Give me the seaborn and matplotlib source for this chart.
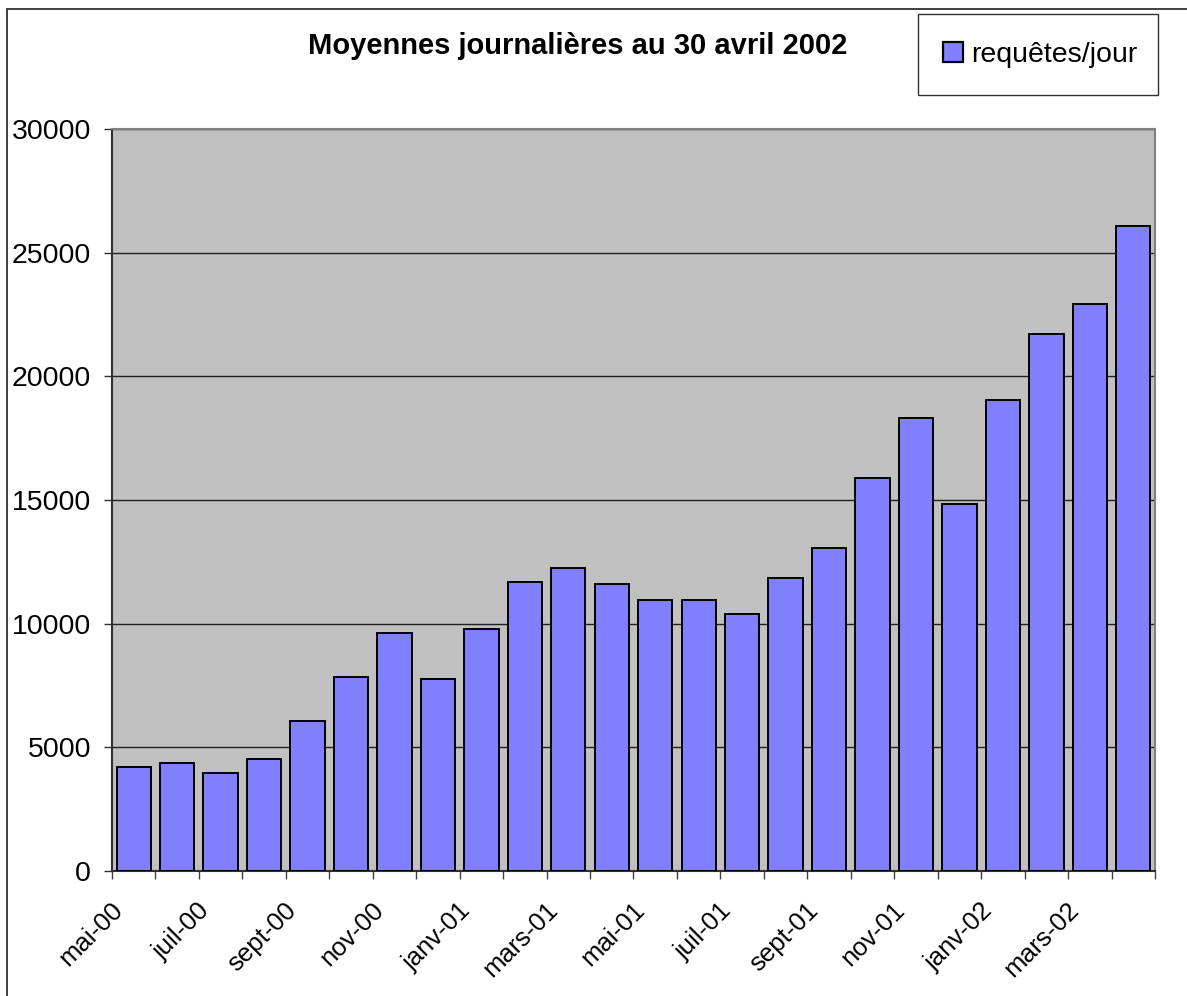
# Moyennes journalieres - bar chart, requetes/jour par mois (mai-00 a avr-02)
import pandas as pd
import numpy as np
import matplotlib
matplotlib.use('Agg')
import matplotlib.pyplot as plt
import matplotlib.patches as mpatches
import matplotlib.transforms as mtransforms
import seaborn as sns

# ============================================
# DATA
# ============================================
mois = ['mai-00', 'juin-00', 'juil-00', 'août-00', 'sept-00', 'oct-00',
        'nov-00', 'déc-00', 'janv-01', 'févr-01', 'mars-01', 'avr-01',
        'mai-01', 'juin-01', 'juil-01', 'août-01', 'sept-01', 'oct-01',
        'nov-01', 'déc-01', 'janv-02', 'févr-02', 'mars-02', 'avr-02']
requetes = [4210, 4370, 3970, 4540, 6070, 7850,
            9620, 7770, 9790, 11690, 12250, 11620,
            10960, 10960, 10400, 11850, 13060, 15890,
            18310, 14840, 19040, 21700, 22910, 26060]
y_ticks = [0, 5000, 10000, 15000, 20000, 25000, 30000]
titre = 'Moyennes journalières au 30 avril 2002'
serie = 'requêtes/jour'

df = pd.DataFrame({'mois': mois, 'requetes': requetes})

# ============================================
# STYLE
# ============================================
sns.set_style('white')
plt.rcParams['font.family'] = ['Liberation Sans', 'DejaVu Sans']
plt.rcParams['text.color'] = 'black'
plt.rcParams['xtick.color'] = 'black'
plt.rcParams['ytick.color'] = 'black'

W, H = 1187, 996
fig = plt.figure(figsize=(W / 100, H / 100), dpi=100)
ax = fig.add_axes([112 / W, 1 - 871 / H, 1043 / W, (871 - 129) / H])
ax.set_facecolor('#C0C0C0')

# bars
sns.barplot(data=df, x='mois', y='requetes', color='#8080FF', saturation=1,
            edgecolor='black', linewidth=1.4, width=0.79, ax=ax, zorder=3)

# axes limits and grid
ax.set_xlim(-0.5, len(mois) - 0.5)
ax.set_ylim(0, 30000)
ax.set_yticks(y_ticks)
ax.set_yticklabels([str(v) for v in y_ticks])
ax.yaxis.grid(True, color='#202020', linewidth=1.0)
ax.xaxis.grid(False)
ax.set_axisbelow(True)
ax.set_xlabel('')
ax.set_ylabel('')

# spines
for side in ['top', 'right']:
    ax.spines[side].set_color('#808080')
    ax.spines[side].set_linewidth(1.5)
for side in ['left', 'bottom']:
    ax.spines[side].set_color('#303030')
    ax.spines[side].set_linewidth(1.5)

# y ticks
ax.tick_params(axis='y', which='major', direction='out', length=5.8, width=1.0,
               color='#303030', labelcolor='black', pad=9.3, labelsize=20.5,
               left=True)

# x ticks: marks between categories, labels every two months
pos = np.arange(len(mois))
ax.set_xticks(pos[::2])
ax.set_xticklabels(mois[::2])
ax.set_xticks(np.arange(-0.5, len(mois), 1.0), minor=True)
ax.tick_params(axis='x', which='minor', direction='out', length=5.8, width=1.0,
               color='#404040', bottom=True)
ax.tick_params(axis='x', which='major', length=0, pad=19.5, labelsize=18.5,
               labelcolor='black')
offset = mtransforms.ScaledTranslation(-0.23, 0, fig.dpi_scale_trans)
for lab in ax.get_xticklabels():
    lab.set_rotation(45)
    lab.set_rotation_mode('anchor')
    lab.set_ha('right')
    lab.set_va('top')
    lab.set_transform(lab.get_transform() + offset)

# title
fig.text(578 / W, 1 - 54 / H, titre, ha='center', va='baseline',
         fontsize=21, fontweight='bold', color='black')

# legend: box drawn by hand, entry centred inside
box = mpatches.Rectangle((918 / W, 1 - 95 / H), 240 / W, 81 / H,
                         transform=fig.transFigure, facecolor='white',
                         edgecolor='#303030', linewidth=1.0)
fig.patches.append(box)
handle = mpatches.Patch(facecolor='#8080FF', edgecolor='black', linewidth=1.6,
                        label=serie)
leg = fig.legend(handles=[handle], loc='center',
                 bbox_to_anchor=(1040 / W, 1 - 55 / H), borderaxespad=0,
                 fontsize=20.5, frameon=False, borderpad=0,
                 handlelength=0.7, handleheight=0.7, handletextpad=0.3)

# outer chart frame
frame = mpatches.Rectangle((7 / W, -0.1), 2, 1 - 9 / H + 0.1,
                           transform=fig.transFigure, fill=False,
                           edgecolor='#303030', linewidth=1.3, clip_on=False)
fig.patches.append(frame)

fig.savefig('out.png', dpi=100)
